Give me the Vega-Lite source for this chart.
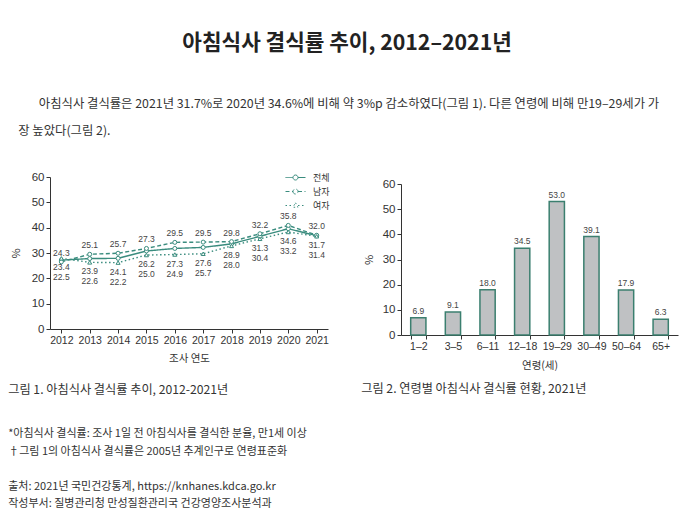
{
  "$schema": "https://vega.github.io/schema/vega-lite/v6.json",
  "background": "white",
  "padding": {"left": 8, "top": 33, "right": 5, "bottom": 5},
  "title": {"text": "아침식사 결식률 추이, 2012–2021년", "anchor": "middle", "fontSize": 21.3, "fontWeight": "bold", "font": "Noto Sans CJK KR", "color": "#222", "offset": 43, "dx": 4},
  "config": {
    "view": {"stroke": null},
    "font": "Noto Sans CJK KR",
    "axis": {"grid": false, "labelOverlap": false, "domainColor": "#333", "tickColor": "#333", "labelColor": "#333", "titleColor": "#333", "labelFont": "Liberation Sans", "titleFont": "Noto Sans CJK KR", "titleFontWeight": "normal", "tickSize": 4, "domainWidth": 1, "tickWidth": 1},
    "title": {"font": "Noto Sans CJK KR"}
  },
  "vconcat": [
    {
      "title": {"text": ["\u200b\u3000\u00a0\u00a0\u00a0아침식사 결식률은 2021년 31.7%로 2020년 34.6%에 비해 약 3%p 감소하였다(그림 1). 다른 연령에 비해 만19–29세가 가", "장 높았다(그림 2)."], "anchor": "start", "frame": "bounds", "fontSize": 12.35, "fontWeight": "normal", "lineHeight": 27, "color": "#333", "offset": 34, "dx": 10},
      "spacing": 32,
      "hconcat": [
        {
          "width": 278,
          "height": 152,
          "title": {"text": "그림 1. 아침식사 결식률 추이, 2012-2021년", "orient": "bottom", "anchor": "start", "frame": "bounds", "fontSize": 12.2, "fontWeight": "normal", "color": "#333", "offset": 20, "dx": -2,
            "subtitle": ["*아침식사 결식률: 조사 1일 전 아침식사를 결식한 분율, 만1세 이상", "†그림 1의 아침식사 결식률은 2005년 추계인구로 연령표준화", "\u200b", "출처: 2021년 국민건강통계, https://knhanes.kdca.go.kr", "작성부서: 질병관리청 만성질환관리국 건강영양조사분석과"],
            "subtitleFontSize": 11, "subtitleColor": "#333", "subtitlePadding": 32, "subtitleLineHeight": 17.5, "subtitleFont": "Noto Sans CJK KR"},
          "data": {"values": [
            {"year": 2012, "전체": 27.2, "남자": 26.5, "여자": 27.9, "total_std": 23.4, "male_std": 24.3, "female_std": 22.5},
            {"year": 2013, "전체": 27.8, "남자": 29.5, "여자": 26.3, "total_std": 23.9, "male_std": 25.1, "female_std": 22.6},
            {"year": 2014, "전체": 27.9, "남자": 29.9, "여자": 26.2, "total_std": 24.1, "male_std": 25.7, "female_std": 22.2},
            {"year": 2015, "전체": 30.8, "남자": 31.8, "여자": 29.2, "total_std": 26.2, "male_std": 27.3, "female_std": 25.0},
            {"year": 2016, "전체": 31.8, "남자": 34.2, "여자": 29.4, "total_std": 27.3, "male_std": 29.5, "female_std": 24.9},
            {"year": 2017, "전체": 32.2, "남자": 34.3, "여자": 29.7, "total_std": 27.6, "male_std": 29.5, "female_std": 25.7},
            {"year": 2018, "전체": 33.6, "남자": 34.5, "여자": 32.8, "total_std": 28.9, "male_std": 29.8, "female_std": 28.0},
            {"year": 2019, "전체": 36.6, "남자": 37.6, "여자": 35.6, "total_std": 31.3, "male_std": 32.2, "female_std": 30.4},
            {"year": 2020, "전체": 39.6, "남자": 40.9, "여자": 38.3, "total_std": 34.6, "male_std": 35.8, "female_std": 33.2},
            {"year": 2021, "전체": 36.8, "남자": 37.0, "여자": 36.6, "total_std": 31.7, "male_std": 32.0, "female_std": 31.4}
          ]},
          "encoding": {
            "x": {"field": "year", "type": "ordinal", "scale": {"type": "point", "padding": 0.4}, "axis": {"labelAngle": 0, "labelFontSize": 10.5, "title": "조사 연도", "titleFontSize": 10.5, "labelPadding": 2, "titlePadding": 8}}
          },
          "layer": [
            {
              "transform": [{"fold": ["전체", "남자", "여자"], "as": ["series", "value"]}],
              "mark": {"type": "line", "color": "#3a8c7e", "strokeWidth": 1.4},
              "encoding": {
                "y": {"field": "value", "type": "quantitative", "title": "%", "scale": {"domain": [0, 60]}, "axis": {"values": [0, 10, 20, 30, 40, 50, 60], "labelFontSize": 11.5, "titleFontSize": 11, "labelPadding": 2, "titlePadding": 10}},
                "strokeDash": {"field": "series", "type": "nominal", "scale": {"domain": ["전체", "남자", "여자"], "range": [[1, 0], [4, 2.5], [1.5, 2.5]]},
                  "legend": {"title": null, "orient": "none", "legendX": 240, "legendY": -5, "symbolType": "M-2,0H-0.5M0.5,0H2M-0.5,0A0.5,0.5 0 1,0 0.5,0A0.5,0.5 0 1,0 -0.5,0Z", "symbolSize": 100, "symbolStrokeColor": "#3a8c7e", "symbolFillColor": "white", "symbolStrokeWidth": 1, "labelFontSize": 9, "labelColor": "#333", "labelOffset": 12, "rowPadding": 3, "padding": 0,
                    "encode": {"symbols": {"update": {"shape": {"signal": "datum.value === '여자' ? 'M-2,0H-0.5M0.5,0H2M0,-0.55L0.5,0.35L-0.5,0.35Z' : 'M-2,0H-0.5M0.5,0H2M-0.5,0A0.5,0.5 0 1,0 0.5,0A0.5,0.5 0 1,0 -0.5,0Z'"}, "fill": {"value": "white"}, "stroke": {"value": "#3a8c7e"}}}}}}
              }
            },
            {
              "transform": [{"fold": ["전체", "남자"], "as": ["series", "value"]}],
              "mark": {"type": "point", "shape": "circle", "filled": true, "fill": "white", "stroke": "#3a8c7e", "strokeWidth": 1, "size": 16, "opacity": 1},
              "encoding": {
                "y": {"field": "value", "type": "quantitative", "title": "%", "axis": {"values": [0, 10, 20, 30, 40, 50, 60]}}
              }
            },
            {
              "mark": {"type": "point", "shape": "triangle-up", "filled": true, "fill": "white", "stroke": "#3a8c7e", "strokeWidth": 1, "size": 16, "opacity": 1},
              "encoding": {
                "y": {"field": "여자", "type": "quantitative", "title": "%", "axis": {"values": [0, 10, 20, 30, 40, 50, 60]}}
              }
            },
            {
              "mark": {"type": "text", "fontSize": 8.5, "color": "#444", "font": "Liberation Sans", "baseline": "middle", "dy": -9},
              "encoding": {"y": {"field": "남자", "type": "quantitative", "title": "%", "axis": {"values": [0, 10, 20, 30, 40, 50, 60]}}, "text": {"field": "male_std", "type": "quantitative", "format": ".1f"}}
            },
            {
              "mark": {"type": "text", "fontSize": 8.5, "color": "#444", "font": "Liberation Sans", "baseline": "middle", "dy": 9},
              "encoding": {"y": {"field": "여자", "type": "quantitative", "title": "%", "axis": {"values": [0, 10, 20, 30, 40, 50, 60]}}, "text": {"field": "total_std", "type": "quantitative", "format": ".1f"}}
            },
            {
              "mark": {"type": "text", "fontSize": 8.5, "color": "#444", "font": "Liberation Sans", "baseline": "middle", "dy": 19},
              "encoding": {"y": {"field": "여자", "type": "quantitative", "title": "%", "axis": {"values": [0, 10, 20, 30, 40, 50, 60]}}, "text": {"field": "female_std", "type": "quantitative", "format": ".1f"}}
            }
          ]
        },
        {
          "title": {"text": "그림 2. 연령별 아침식사 결식률 현황, 2021년", "orient": "bottom", "anchor": "start", "frame": "bounds", "fontSize": 12.2, "fontWeight": "normal", "color": "#333", "offset": 12, "dx": -2},
          "width": 277,
          "height": 158,
          "data": {"values": [
            {"age": "1–2", "rate": 6.9},
            {"age": "3–5", "rate": 9.1},
            {"age": "6–11", "rate": 18.0},
            {"age": "12–18", "rate": 34.5},
            {"age": "19–29", "rate": 53.0},
            {"age": "30–49", "rate": 39.1},
            {"age": "50–64", "rate": 17.9},
            {"age": "65+", "rate": 6.3}
          ]},
          "encoding": {
            "x": {"field": "age", "type": "nominal", "sort": null, "scale": {"paddingInner": 0.56, "paddingOuter": 0.28}, "axis": {"labelAngle": 0, "tickBand": "extent", "labelFontSize": 10.5, "title": "연령(세)", "titleFontSize": 10.5, "labelPadding": 2, "titlePadding": 9}},
            "y": {"field": "rate", "type": "quantitative", "title": "%", "scale": {"domain": [0, 60], "range": [158, 7]}, "axis": {"values": [0, 10, 20, 30, 40, 50, 60], "labelFontSize": 11.5, "titleFontSize": 11, "labelPadding": 2, "titlePadding": 8}}
          },
          "layer": [
            {"mark": {"type": "bar", "fill": "#bfc1c3", "stroke": "#3b7f6f", "strokeWidth": 1.5}},
            {"mark": {"type": "text", "fontSize": 8.5, "color": "#444", "font": "Liberation Sans", "baseline": "middle", "dy": -7},
             "encoding": {"text": {"field": "rate", "type": "quantitative", "format": ".1f"}}}
          ]
        }
      ]
    }
  ]
}
